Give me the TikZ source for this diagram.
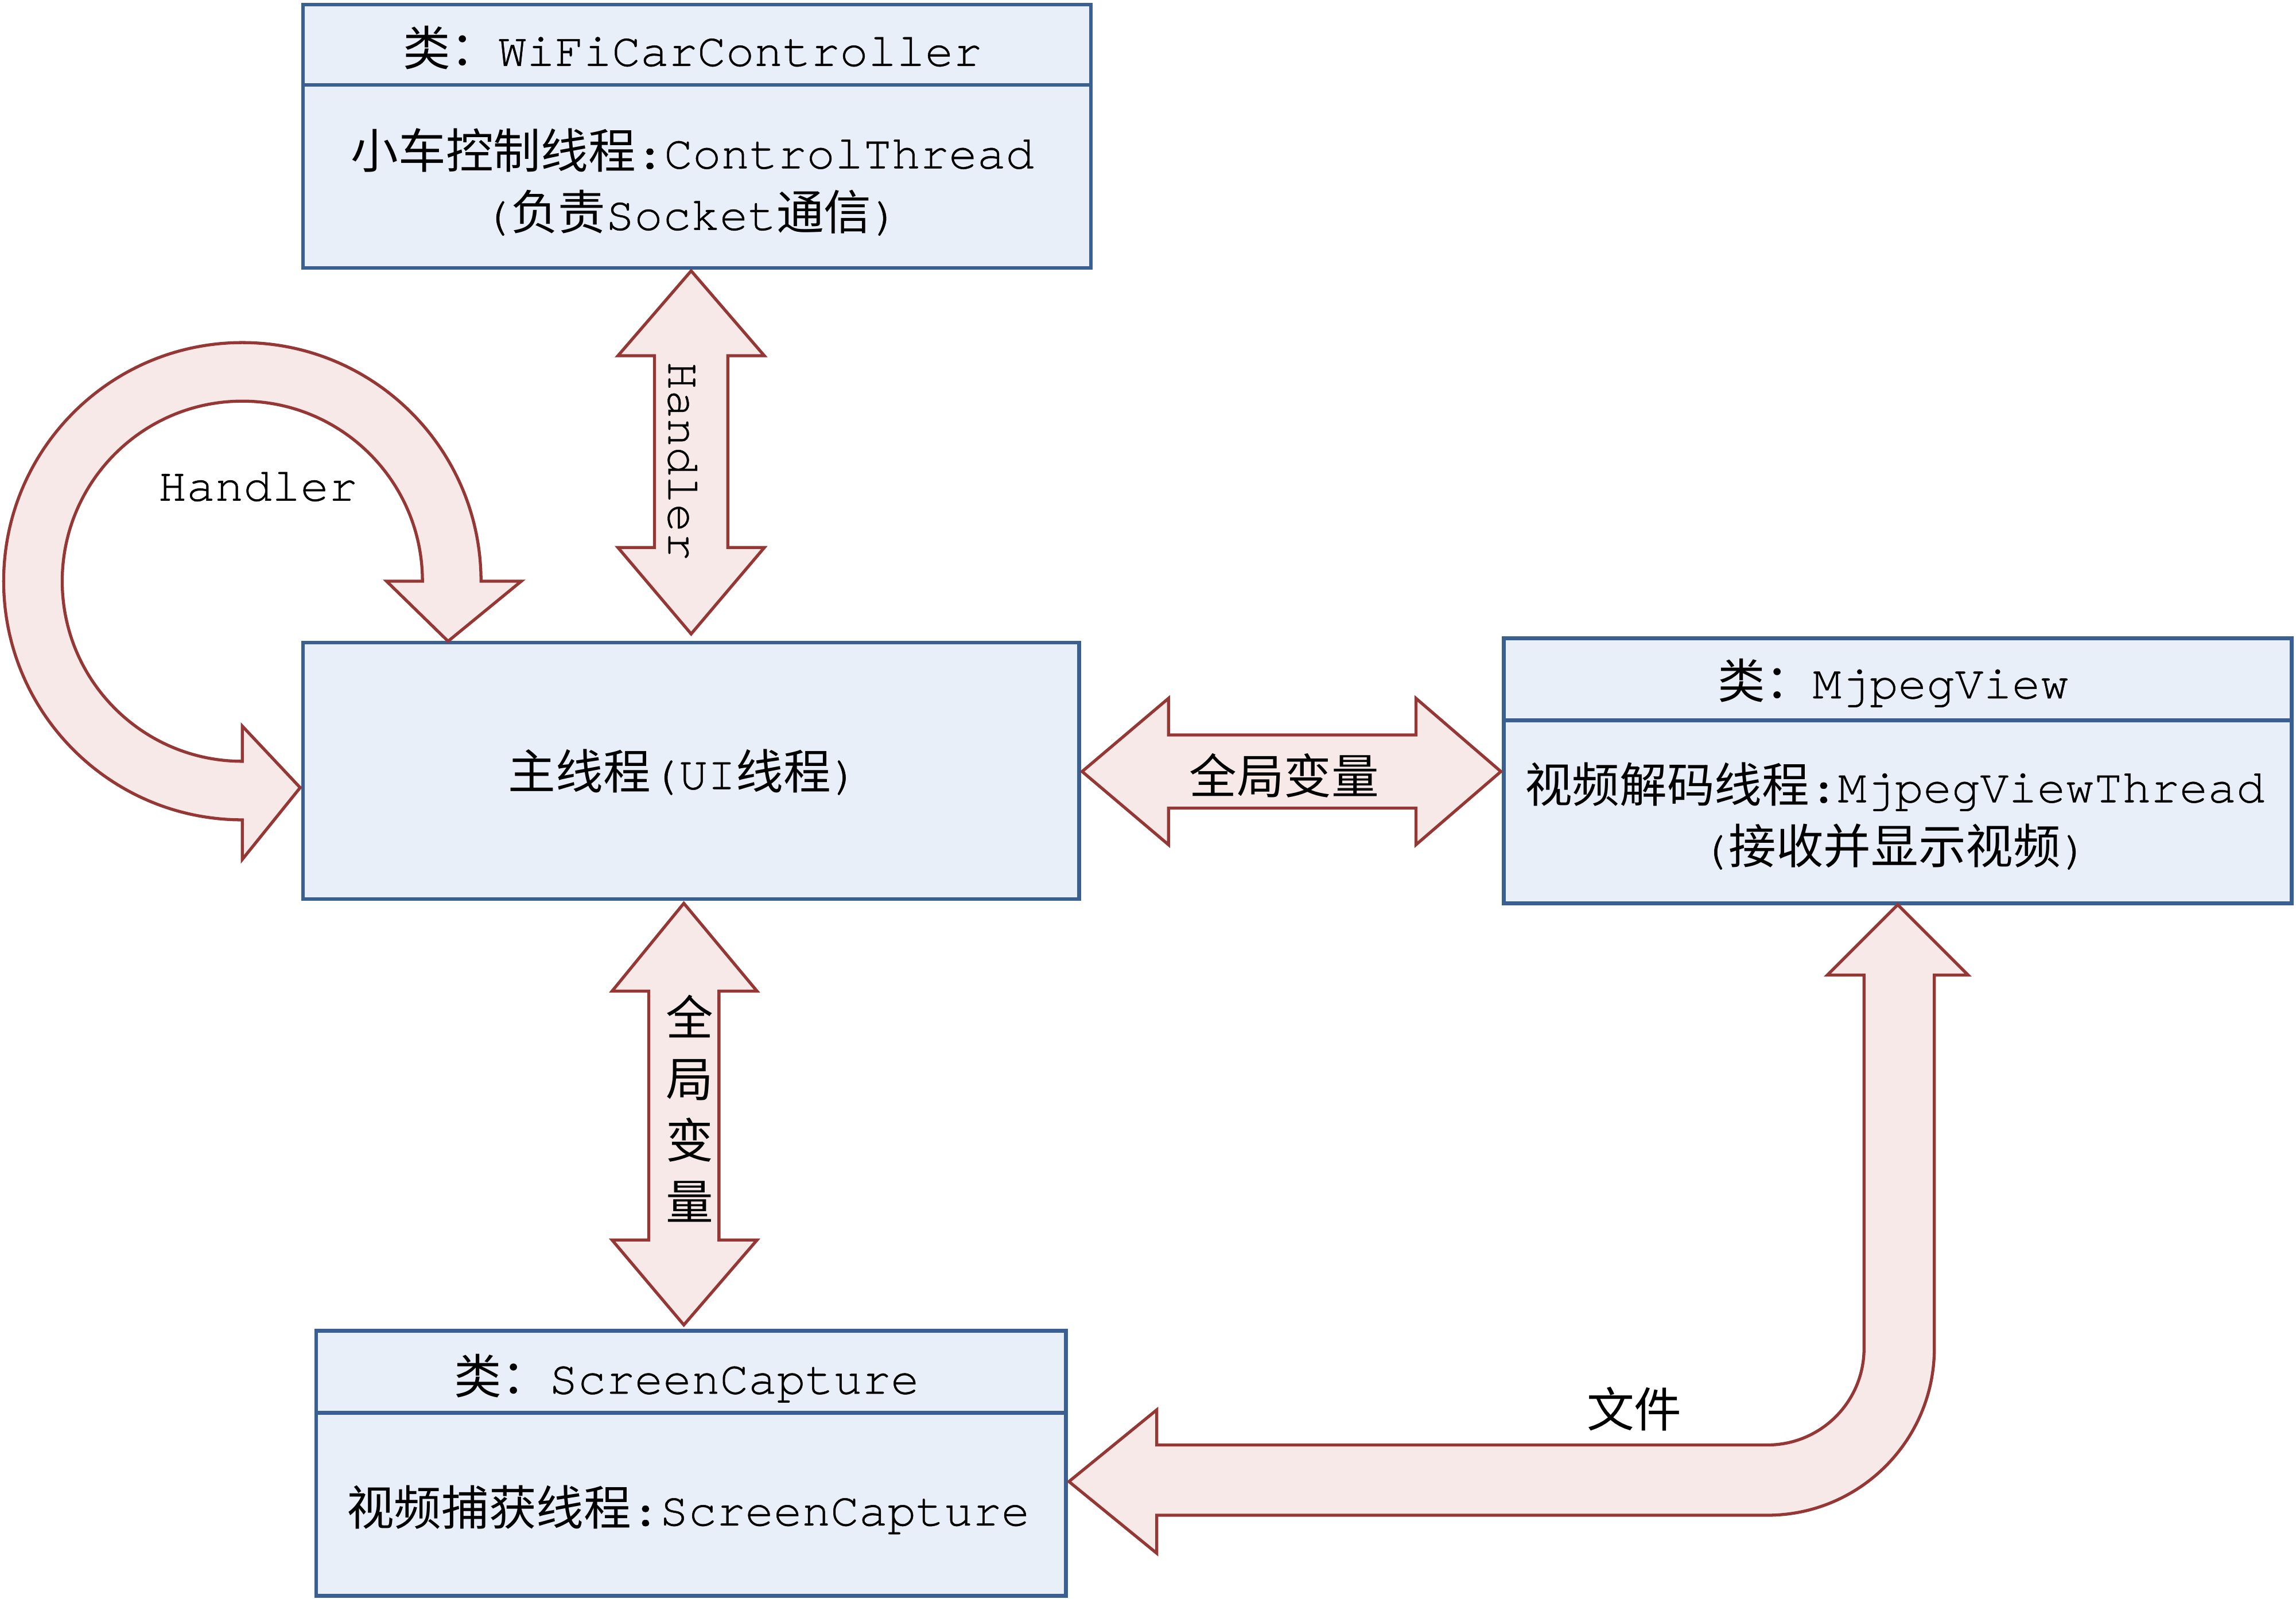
\documentclass[tikz,border=0pt]{standalone}
\usepackage{fontspec}
\setmainfont[UprightFeatures={FakeBold=0.6}]{TeX Gyre Cursor}
\newfontfamily\cjkf{Noto Sans CJK SC}
\newcommand{\zh}[1]{{\cjkf #1}}
\definecolor{boxblue}{HTML}{3A5F93}
\definecolor{boxfill}{HTML}{E9EFF8}
\definecolor{arrred}{HTML}{953735}
\definecolor{arrfill}{HTML}{F8E9E9}
\begin{document}
\begin{tikzpicture}[x=0.0255cm,y=-0.0255cm,
  box/.style={rectangle,draw=boxblue,fill=boxfill,line width=1.8pt,inner sep=0pt,outer sep=0pt},
  divline/.style={draw=boxblue,line width=1.8pt},
  blk/.style={draw=arrred,fill=arrfill,line width=1.5pt,line join=miter},
  lbl/.style={font=\fontsize{23.5}{28}\selectfont,inner sep=0pt,anchor=base,text=black}]
\useasboundingbox (0,0) rectangle (1568,1092);

% boxes
\node[box,minimum width=538*0.0255cm,minimum height=180*0.0255cm] (b1) at (476,93) {};
\draw[divline] (207,58) -- (745,58);
\node[box,minimum width=530*0.0255cm,minimum height=175*0.0255cm] (b2) at (472,526.5) {};
\node[box,minimum width=538*0.0255cm,minimum height=181*0.0255cm] (b3) at (1296,526.5) {};
\draw[divline] (1027,492) -- (1565,492);
\node[box,minimum width=512*0.0255cm,minimum height=181*0.0255cm] (b4) at (472,999.5) {};
\draw[divline] (216,965) -- (728,965);

% block arrows
\draw[blk] (472,185) -- (522,243) -- (497,243) -- (497,374) -- (522,374) -- (472,433)
  -- (422,374) -- (447,374) -- (447,243) -- (422,243) -- cycle;
\draw[blk] (739,527) -- (798,477) -- (798,502) -- (967,502) -- (967,477) -- (1025,527)
  -- (967,577) -- (967,552) -- (798,552) -- (798,577) -- cycle;
\draw[blk] (467,617) -- (517,677) -- (491,677) -- (491,847) -- (517,847) -- (467,905)
  -- (418,847) -- (443,847) -- (443,677) -- (418,677) -- cycle;
\draw[blk] (328.5,397) arc[start angle=0,end angle=-270,radius=163]
  -- (165.5,587) -- (205,538) -- (165.5,496) -- (165.5,520)
  arc[start angle=-270,end angle=0,radius=123]
  -- (264,397) -- (306,438) -- (356,397) -- cycle;
\draw[blk] (1296,618) -- (1344,666) -- (1321,666) -- (1321,921)
  arc[start angle=0,end angle=90,radius=114]
  -- (790,1035) -- (790,1061) -- (730,1012) -- (790,963) -- (790,987) -- (1207,987)
  arc[start angle=90,end angle=0,radius=66]
  -- (1273,666) -- (1248,666) -- cycle;

% texts
\node[lbl] (t1) at (473,45) {\zh{类：}WiFiCarController};
\node[lbl] (t1a) at (473,115) {\zh{小车控制线程}:ControlThread};
\node[lbl] (t1b) at (472,157) {(\zh{负责}Socket\zh{通信})};
\node[lbl] (t2) at (467,539) {\zh{主线程}(UI\zh{线程})};
\node[lbl] (t3) at (1293,477) {\zh{类：}MjpegView};
\node[lbl] (t3a) at (1294,548) {\zh{视频解码线程}:MjpegViewThread};
\node[lbl] (t3b) at (1294,590) {(\zh{接收并显示视频})};
\node[lbl] (t4) at (469,952) {\zh{类：}ScreenCapture};
\node[lbl] (t4a) at (470,1042) {\zh{视频捕获线程}:ScreenCapture};
\node[lbl] (hl) at (176,342) {Handler};
\node[lbl,rotate=-90] (hv) at (456.5,315) {Handler};
\node[lbl] (gh) at (877,542) {\zh{全局变量}};
\node[lbl] (gv1) at (471,707) {\zh{全}};
\node[lbl] (gv2) at (471,749) {\zh{局}};
\node[lbl] (gv3) at (471,791) {\zh{变}};
\node[lbl] (gv4) at (471,833) {\zh{量}};
\node[lbl] (wj) at (1116,975) {\zh{文件}};
\end{tikzpicture}
\end{document}
